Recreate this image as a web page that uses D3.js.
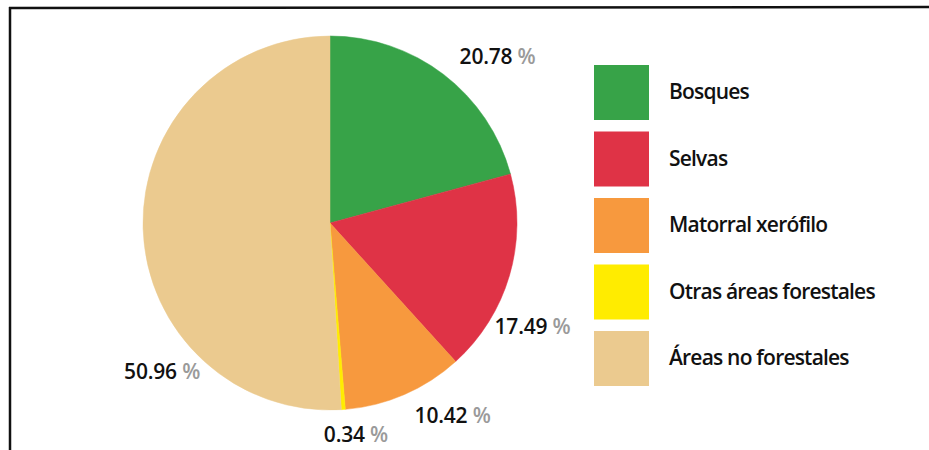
<!DOCTYPE html>
<html>
<head>
<meta charset="utf-8">
<script src="https://cdn.jsdelivr.net/npm/d3@7"></script>
<style>
  html, body { margin: 0; padding: 0; background: #ffffff; }
  svg { display: block; }
  text { font-family: "Open Sans", "DejaVu Sans", sans-serif; }
</style>
</head>
<body>
<svg id="chart" width="929" height="450"></svg>
<script>
// Land-cover shares (percent)
const categories = ["Bosques", "Selvas", "Matorral xerófilo", "Otras áreas forestales", "Áreas no forestales"];
const shares = [20.78, 17.49, 10.42, 0.34, 50.96];
const colors = ["#37a348", "#df3346", "#f7993e", "#ffec00", "#ebca8f"];

// Layout
const W = 929, H = 450;
const cx = 330, cy = 223, radius = 187;
const labelRadius = 210;
// per-slice label shift from the point on the label ring, and text anchor
const labelShift = [
  { dx: 2, dy: 0, anchor: "start" },
  { dx: -37, dy: 45, anchor: "start" },
  { dx: 1, dy: 0, anchor: "start" },
  { dx: 11, dy: 2, anchor: "middle" },
  { dx: 80, dy: 142, anchor: "end" }
];

const svg = d3.select("#chart");

// Frame lines (top and left)
svg.append("line").attr("x1", 9).attr("y1", 8).attr("x2", W).attr("y2", 7)
  .attr("stroke", "#111").attr("stroke-width", 2.5);
svg.append("line").attr("x1", 10).attr("y1", 7).attr("x2", 10).attr("y2", H)
  .attr("stroke", "#111").attr("stroke-width", 2.5);

const data = categories.map((c, i) => ({ name: c, value: shares[i], color: colors[i], i }));

const pie = d3.pie().value(d => d.value).sort(null);
const arcs = pie(data);
const arc = d3.arc().innerRadius(0).outerRadius(radius);
const labelArc = d3.arc().innerRadius(labelRadius).outerRadius(labelRadius);

const g = svg.append("g").attr("transform", `translate(${cx},${cy})`);

g.selectAll("path.slice")
  .data(arcs)
  .join("path")
  .attr("class", "slice")
  .attr("d", arc)
  .attr("fill", d => d.data.color)
  .attr("stroke", d => d.data.color)
  .attr("stroke-width", 0.5);

// Value labels: number in black, percent sign in grey
const labels = g.selectAll("text.val")
  .data(arcs)
  .join("text")
  .attr("class", "val")
  .attr("transform", d => {
    const [x, y] = labelArc.centroid(d);
    const s = labelShift[d.data.i];
    return `translate(${x + s.dx},${y + s.dy})`;
  })
  .attr("text-anchor", d => labelShift[d.data.i].anchor)
  .attr("dy", "0.35em")
  .attr("font-size", 21)
  .attr("letter-spacing", "-0.2");

labels.append("tspan").attr("fill", "#111").attr("font-weight", 600)
  .text(d => d.data.value.toFixed(2));
labels.append("tspan").attr("fill", "#9a9a9a").attr("font-weight", 600)
  .text(" %");

// Legend
const legendX = 594, legendY = 65, sw = 55, step = 66.5;
const legend = svg.append("g").attr("transform", `translate(${legendX},${legendY})`);
const items = legend.selectAll("g.item")
  .data(data)
  .join("g")
  .attr("class", "item")
  .attr("transform", (d, i) => `translate(0,${i * step})`);

items.append("rect")
  .attr("width", sw).attr("height", sw)
  .attr("fill", d => d.color);

items.append("text")
  .attr("x", 75)
  .attr("y", sw / 2)
  .attr("dy", "0.33em")
  .attr("font-size", 21)
  .attr("font-weight", 600)
  .attr("letter-spacing", "-0.8")
  .attr("fill", "#111")
  .text(d => d.name);
</script>
</body>
</html>
